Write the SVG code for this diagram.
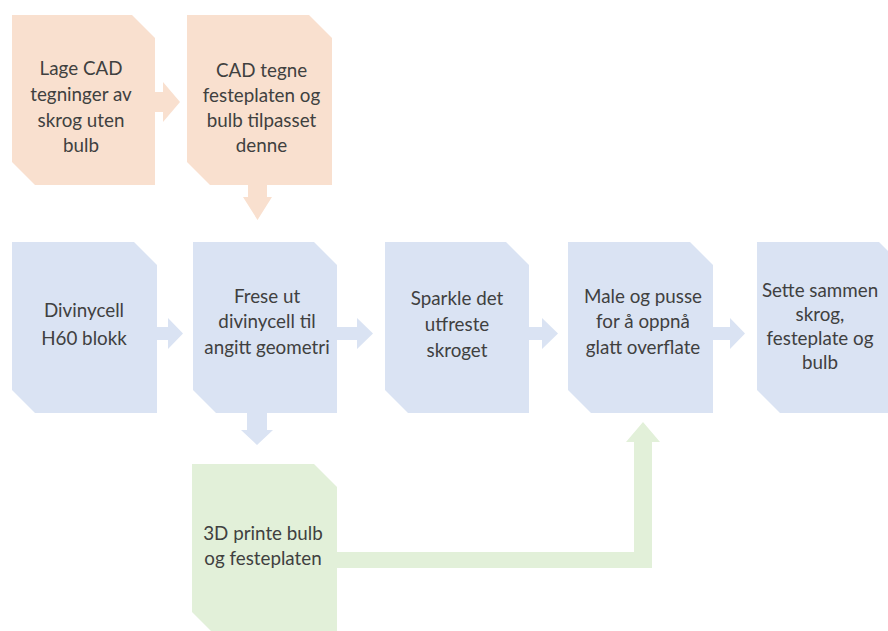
<svg xmlns="http://www.w3.org/2000/svg" width="888" height="631" viewBox="0 0 888 631">
<style>
.o{fill:#F9E0CF}
.b{fill:#DAE3F3}
.g{fill:#E2F0D9}
text{font-family:Lato,"Liberation Sans",sans-serif;font-size:18.8px;fill:#404040;text-anchor:middle}
</style>
<rect width="888" height="631" fill="#ffffff"/>
<g id="connectors">
<polygon class="o" points="150,92 163,92 163,82 180,102 163,122 163,112 150,112"/>
<polygon class="o" points="248,180 267,180 267,197 272,197 257.5,220 243,197 248,197"/>
<polygon class="b" points="150,327 168,327 168,318 183,333.5 168,349 168,340 150,340"/>
<polygon class="b" points="330,327 357,327 357,318 373,333.5 357,349 357,340 330,340"/>
<polygon class="b" points="522,327 542,327 542,318 558,333.5 542,349 542,340 522,340"/>
<polygon class="b" points="706,327 730,327 730,318 745,333.5 730,349 730,340 706,340"/>
<polygon class="b" points="247,408 267,408 267,430 273,430 257,445 241,430 247,430"/>
<polygon class="g" points="330,552 634,552 634,442 626,442 643,422 660,442 652,442 652,568 330,568"/>
</g>
<g id="n1">
<polygon class="o" points="12,15 132,15 155,38 155,185 35,185 12,162"/>
<text x="81" y="75">Lage CAD</text>
<text x="81" y="101">tegninger av</text>
<text x="81" y="126.5">skrog uten</text>
<text x="81" y="152">bulb</text>
</g>
<g id="n2">
<polygon class="o" points="187,15 309,15 332,38 332,185 210,185 187,162"/>
<text x="261.5" y="76.7">CAD tegne</text>
<text x="261.5" y="101.7">festeplaten og</text>
<text x="261.5" y="126.7">bulb tilpasset</text>
<text x="261.5" y="151.7">denne</text>
</g>
<g id="n3">
<polygon class="b" points="12,242 134,242 157,265 157,413 35,413 12,390"/>
<text x="84" y="316.7">Divinycell</text>
<text x="84" y="345">H60 blokk</text>
</g>
<g id="n4">
<polygon class="b" points="193,242 314,242 337,265 337,413 216,413 193,390"/>
<text x="267" y="303.3">Frese ut</text>
<text x="267" y="328.3">divinycell til</text>
<text x="267" y="354">angitt geometri</text>
</g>
<g id="n5">
<polygon class="b" points="385,242 506,242 529,265 529,413 408,413 385,390"/>
<text x="457" y="305">Sparkle det</text>
<text x="457" y="331">utfreste</text>
<text x="457" y="357">skroget</text>
</g>
<g id="n6">
<polygon class="b" points="568,242 690,242 713,265 713,413 591,413 568,390"/>
<text x="643" y="303.3">Male og pusse</text>
<text x="643" y="328.3">for å oppnå</text>
<text x="643" y="354">glatt overflate</text>
</g>
<g id="n7">
<polygon class="b" points="757,242 879,242 902,265 902,413 780,413 757,390"/>
<text x="820" y="296.7">Sette sammen</text>
<text x="820" y="320.7">skrog,</text>
<text x="820" y="345">festeplate og</text>
<text x="820" y="369">bulb</text>
</g>
<g id="n8">
<polygon class="g" points="192,464 314,464 337,487 337,635 215,635 192,612"/>
<text x="263" y="540">3D printe bulb</text>
<text x="263" y="565">og festeplaten</text>
</g>
</svg>
